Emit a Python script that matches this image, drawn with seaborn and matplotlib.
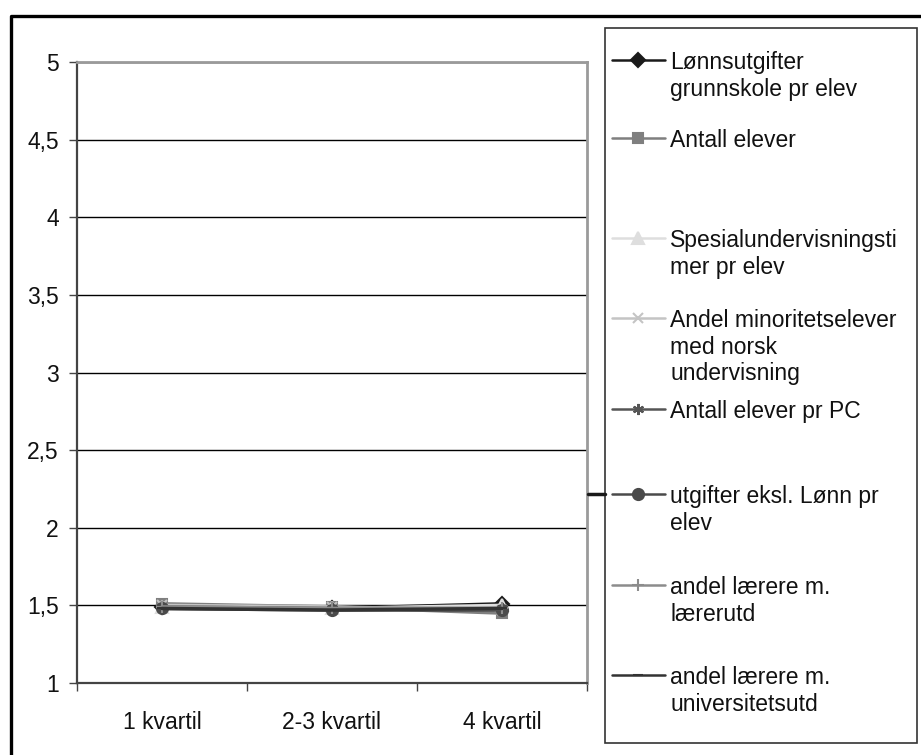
# Line chart of indicator scores per kvartil (Excel-style grey chart)

import matplotlib.pyplot as plt
from matplotlib.lines import Line2D
from matplotlib.patches import Rectangle
import pandas as pd
import seaborn as sns

categories = ['1 kvartil', '2-3 kvartil', '4 kvartil']
series_names = [
    'Lønnsutgifter grunnskole pr elev',
    'Antall elever',
    'Spesialundervisningstimer pr elev',
    'Andel minoritetselever med norsk undervisning',
    'Antall elever pr PC',
    'utgifter eksl. Lønn pr elev',
    'andel lærere m. lærerutd',
    'andel lærere m. universitetsutd',
]
legend_labels = [
    'Lønnsutgifter\ngrunnskole pr elev',
    'Antall elever',
    'Spesialundervisningsti\nmer pr elev',
    'Andel minoritetselever\nmed norsk\nundervisning',
    'Antall elever pr PC',
    'utgifter eksl. Lønn pr\nelev',
    'andel lærere m.\nlærerutd',
    'andel lærere m.\nuniversitetsutd',
]
lonn = [1.49, 1.48, 1.51]
antall = [1.51, 1.49, 1.45]
spesial = [1.49, 1.48, 1.50]
minoritet = [1.50, 1.49, 1.47]
pc = [1.49, 1.48, 1.48]
utgifter = [1.48, 1.47, 1.47]
laererutd = [1.49, 1.48, 1.48]
univ = [1.48, 1.47, 1.48]
all_values = [lonn, antall, spesial, minoritet, pc, utgifter, laererutd, univ]

colors = ['#1a1a1a', '#7f7f7f', '#dedede', '#c4c4c4', '#555555', '#4a4a4a', '#8c8c8c', '#333333']
markers = ['D', 's', '^', 'x', (6, 2, 0), 'o', '+', '_']
msizes = [7, 7, 8, 7, 8, 8, 9, 7]

sns.set_style('white')
plt.rcParams['font.family'] = ['Liberation Sans', 'DejaVu Sans']

fig = plt.figure(figsize=(9.21, 7.55), dpi=100)
ax = fig.add_axes([77 / 921, 1 - 683 / 755, (587 - 77) / 921, (683 - 62) / 755])

# one lineplot per series (filled and line-art markers can't be mixed in one call)
for name, vals, c, m, ms in zip(series_names, all_values, colors, markers, msizes):
    d = pd.DataFrame({'kvartil': categories, 'verdi': vals})
    sns.lineplot(data=d, x='kvartil', y='verdi', color=c, marker=m, markersize=ms,
                 markerfacecolor=c, markeredgecolor=c, markeredgewidth=1.5,
                 linewidth=2.5, sort=False, ax=ax)

ax.set_xlim(-0.5, 2.5)
ax.set_ylim(1, 5)
yticks = [1, 1.5, 2, 2.5, 3, 3.5, 4, 4.5, 5]
ax.set_yticks(yticks)
ax.set_yticklabels([('%g' % t).replace('.', ',') for t in yticks])
ax.set_xticks(range(len(categories)))
ax.set_xticklabels(categories)
ax.set_xticks([-0.5, 0.5, 1.5, 2.5], minor=True)
ax.set_xlabel('')
ax.set_ylabel('')

ax.yaxis.grid(True, color='black', linewidth=1)
ax.set_axisbelow(True)
ax.tick_params(axis='y', which='major', direction='out', length=6, width=1,
               color='#444444', pad=7, labelsize=16.5, left=True, labelcolor='#111111')
ax.tick_params(axis='x', which='major', length=0, pad=20, labelsize=16.5,
               labelcolor='#111111')
ax.tick_params(axis='x', which='minor', direction='out', length=6, width=1,
               color='#444444', bottom=True)

for side in ['left', 'bottom']:
    ax.spines[side].set_color('#444444')
    ax.spines[side].set_linewidth(1.6)
for side in ['top', 'right']:
    ax.spines[side].set_visible(True)
    ax.spines[side].set_color('#9a9a9a')
    ax.spines[side].set_linewidth(2)

# legend: handle sample per series, label text top-aligned so the handle sits at its first line
legend_y = [62, 140, 240, 320, 411, 496, 587, 677]
for lbl, c, m, ms, y in zip(legend_labels, colors, markers, msizes, legend_y):
    h = Line2D([], [], color=c, marker=m, markersize=ms, markerfacecolor=c,
               markeredgecolor=c, linewidth=1.8, markeredgewidth=1.5)
    fig.legend([h], [''], loc='center left',
               bbox_to_anchor=(612 / 921, 1 - y / 755),
               frameon=False, fontsize=16.5, handlelength=2.3, handletextpad=0,
               borderpad=0, borderaxespad=0, labelspacing=0)
    fig.text(670 / 921, 1 - (y - 11) / 755, lbl, ha='left', va='top',
             fontsize=16.5, color='#111111', linespacing=1.2)

# legend frame and little connector mark
fig.add_artist(Rectangle((605 / 921, 1 - 743 / 755), (917 - 605) / 921, (743 - 28) / 755,
                         transform=fig.transFigure, fill=False, edgecolor='#333333',
                         linewidth=1.2))
fig.add_artist(Line2D([588 / 921, 605 / 921], [1 - 494 / 755, 1 - 494 / 755],
                      transform=fig.transFigure, color='#1a1a1a', linewidth=2.5))

# outer chart border (top and left)
fig.add_artist(Line2D([10.5 / 921, 10.5 / 921, 1], [0, 1 - 15.5 / 755, 1 - 15.5 / 755],
                      transform=fig.transFigure, color='black', linewidth=2.4))

fig.savefig('out.png', dpi=100)
